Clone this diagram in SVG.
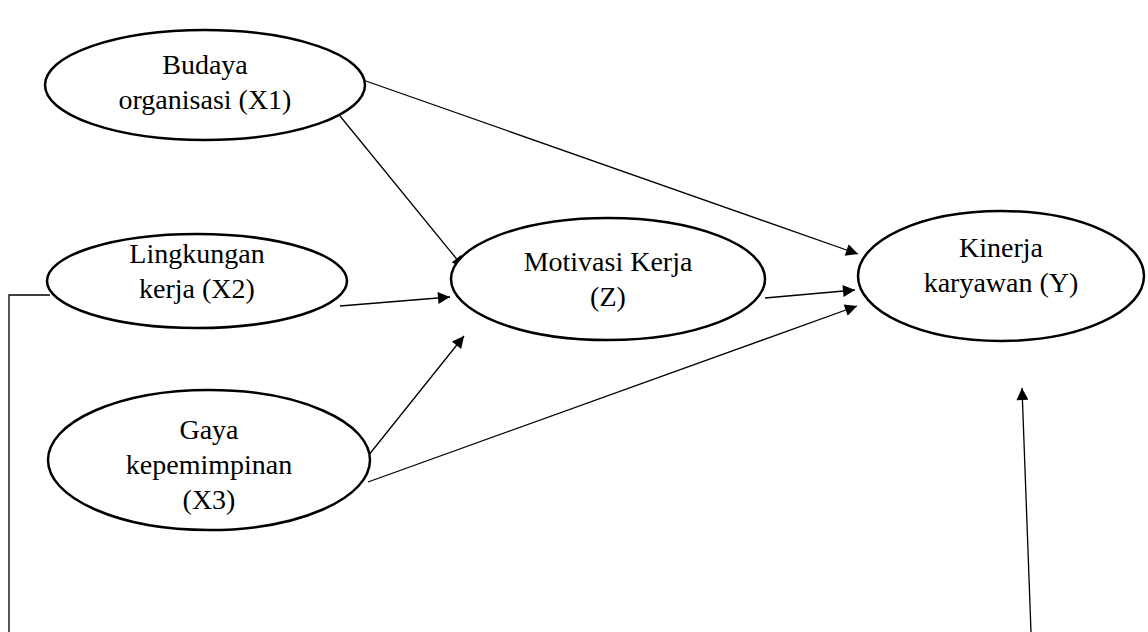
<svg xmlns="http://www.w3.org/2000/svg" width="1148" height="632" viewBox="0 0 1148 632">
<style>
.node ellipse{fill:#fff;stroke:#000;stroke-width:2.5}
.node text{font-family:"Liberation Serif","Times New Roman",serif;font-size:28px;fill:#000;text-anchor:middle}
.edges line,.edges polyline{stroke:#000;stroke-width:1.3;fill:none}
</style>
<defs>
<marker id="ah" viewBox="0 0 10 10" refX="10" refY="5" markerWidth="15" markerHeight="12" markerUnits="userSpaceOnUse" orient="auto">
<path d="M0,0 L10,5 L0,10 z" fill="#000"/>
</marker>
</defs>
<rect width="1148" height="632" fill="#fff"/>
<g class="edges">
<line x1="363" y1="80" x2="858" y2="254" marker-end="url(#ah)"/>
<line x1="340" y1="116" x2="464" y2="268" marker-end="url(#ah)"/>
<line x1="340" y1="306" x2="450" y2="297" marker-end="url(#ah)"/>
<line x1="364" y1="461" x2="464" y2="336" marker-end="url(#ah)"/>
<line x1="368" y1="482" x2="857" y2="306" marker-end="url(#ah)"/>
<line x1="765" y1="298" x2="855" y2="290" marker-end="url(#ah)"/>
<line x1="1031" y1="632" x2="1022" y2="388" marker-end="url(#ah)"/>
<polyline points="50,295 9,295 9,632"/>
</g>
<g id="x1" class="node"><ellipse cx="205" cy="85" rx="160" ry="55"/><text x="205" y="74">Budaya</text><text x="205" y="109">organisasi (X1)</text></g>
<g id="x2" class="node"><ellipse cx="197" cy="281" rx="150" ry="47"/><text x="197" y="263">Lingkungan</text><text x="197" y="298">kerja (X2)</text></g>
<g id="z" class="node"><ellipse cx="608" cy="279" rx="157" ry="61"/><text x="608" y="271">Motivasi Kerja</text><text x="608" y="306">(Z)</text></g>
<g id="y" class="node"><ellipse cx="1001" cy="276" rx="143" ry="65"/><text x="1001" y="257">Kinerja</text><text x="1001" y="292">karyawan (Y)</text></g>
<g id="x3" class="node"><ellipse cx="209" cy="460" rx="161" ry="70"/><text x="209" y="439">Gaya</text><text x="209" y="474">kepemimpinan</text><text x="209" y="509">(X3)</text></g>
</svg>
